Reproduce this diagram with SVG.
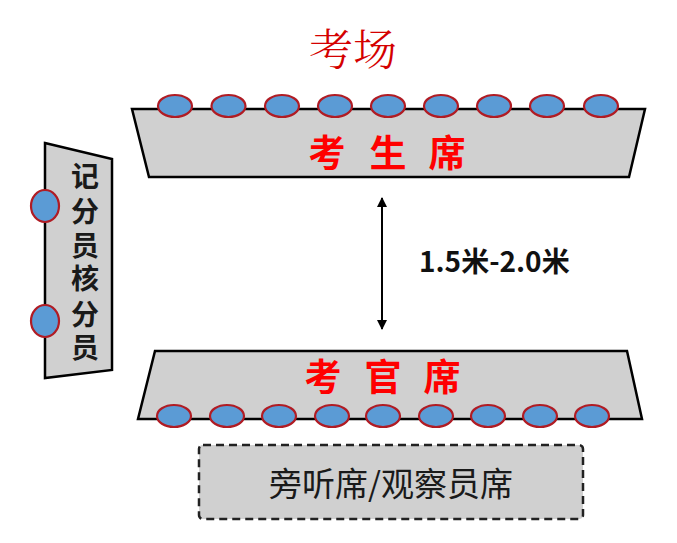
<svg xmlns="http://www.w3.org/2000/svg" width="677" height="543" viewBox="0 0 677 543">
<defs>
<style>
.tray{fill:#D0D0D0;stroke:#000;stroke-width:2.5;stroke-linejoin:miter}
.seat{fill:#5B9BD5;stroke:#B01C24;stroke-width:2.2}
.lbl{font-family:"Noto Sans CJK SC","Noto Sans",sans-serif;font-weight:bold;fill:#FF0000;font-size:37px;text-anchor:middle}
.side{font-family:"Noto Sans CJK SC","Noto Sans",sans-serif;font-weight:bold;fill:#1a1a1a;font-size:28px;text-anchor:middle}
</style>
<marker id="ah" viewBox="0 0 10 10" refX="9" refY="5" markerWidth="10" markerHeight="10" markerUnits="userSpaceOnUse" orient="auto-start-reverse">
<path d="M0,0 L10,5 L0,10 z" fill="#000"/>
</marker>
</defs>
<rect width="677" height="543" fill="#fff"/>
<g id="title">
<text x="353" y="66" font-family="Noto Serif CJK SC,Noto Sans CJK SC,serif" font-size="44" fill="#D40000" text-anchor="middle" font-weight="300">考场</text>
</g>
<g id="students">
<polygon class="tray" points="132,109 645,109 629,177 149,177"/>
<g>
<ellipse class="seat" cx="175" cy="106" rx="17" ry="11"/>
<ellipse class="seat" cx="228.5" cy="106" rx="17" ry="11"/>
<ellipse class="seat" cx="282" cy="106" rx="17" ry="11"/>
<ellipse class="seat" cx="335" cy="106" rx="17" ry="11"/>
<ellipse class="seat" cx="388" cy="106" rx="17" ry="11"/>
<ellipse class="seat" cx="441" cy="106" rx="17" ry="11"/>
<ellipse class="seat" cx="494" cy="106" rx="17" ry="11"/>
<ellipse class="seat" cx="547" cy="106" rx="17" ry="11"/>
<ellipse class="seat" cx="601" cy="106" rx="17" ry="11"/>
</g>
<text class="lbl" y="167"><tspan x="327">考</tspan><tspan x="388">生</tspan><tspan x="447">席</tspan></text>
</g>
<g id="examiners">
<polygon class="tray" points="155,351 627,351 642,419 138,419"/>
<g>
<ellipse class="seat" cx="174" cy="416" rx="17" ry="11"/>
<ellipse class="seat" cx="227" cy="416" rx="17" ry="11"/>
<ellipse class="seat" cx="279" cy="416" rx="17" ry="11"/>
<ellipse class="seat" cx="332" cy="416" rx="17" ry="11"/>
<ellipse class="seat" cx="383" cy="416" rx="17" ry="11"/>
<ellipse class="seat" cx="436" cy="416" rx="17" ry="11"/>
<ellipse class="seat" cx="488" cy="416" rx="17" ry="11"/>
<ellipse class="seat" cx="540" cy="416" rx="17" ry="11"/>
<ellipse class="seat" cx="592" cy="416" rx="17" ry="11"/>
</g>
<text class="lbl" y="391"><tspan x="323">考</tspan><tspan x="383">官</tspan><tspan x="442">席</tspan></text>
</g>
<g id="scorers">
<polygon class="tray" points="45,143 112,159 112,370 45,378"/>
<ellipse class="seat" cx="45" cy="206" rx="14" ry="16"/>
<ellipse class="seat" cx="45" cy="321" rx="14" ry="16"/>
<text class="side"><tspan x="85" y="187">记</tspan><tspan x="85" y="222">分</tspan><tspan x="85" y="256">员</tspan><tspan x="85" y="289">核</tspan><tspan x="85" y="325">分</tspan><tspan x="85" y="358">员</tspan></text>
</g>
<g id="observers">
<rect x="199" y="445" width="384" height="74" rx="4" fill="#D0D0D0" stroke="#222" stroke-width="2.5" stroke-dasharray="8,5"/>
<text x="391" y="496" font-family="Noto Sans CJK SC,sans-serif" font-size="33" fill="#1a1a1a" text-anchor="middle">旁听席/观察员席</text>
</g>
<g id="connectors">
<line x1="382" y1="198" x2="382" y2="329" stroke="#000" stroke-width="2" marker-start="url(#ah)" marker-end="url(#ah)"/>
</g>
<g id="distance">
<text x="419" y="272" font-family="Noto Sans CJK SC,Noto Sans,sans-serif" font-weight="bold" font-size="28" fill="#111">1.5米-2.0米</text>
</g>
</svg>
